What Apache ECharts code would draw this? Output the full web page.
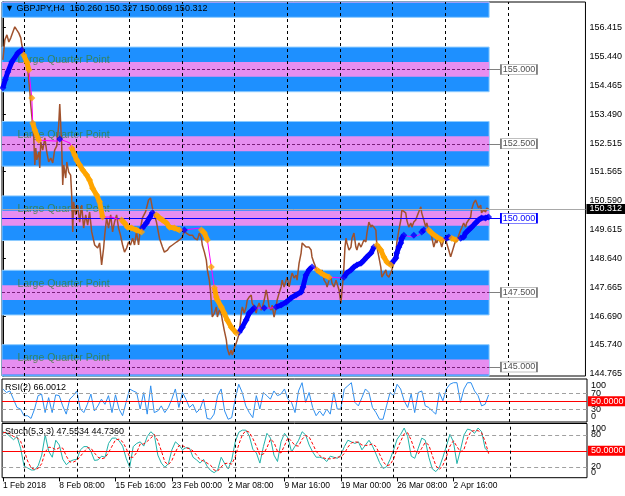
<!DOCTYPE html>
<html>
<head>
<meta charset="utf-8">
<script src="https://cdn.jsdelivr.net/npm/echarts@6/dist/echarts.min.js"></script>
<style>
html, body { margin: 0; padding: 0; background: #fff; }
#chart { width: 625px; height: 496px; }
</style>
</head>
<body>
<div id="chart"></div>
<script>
// GBPJPY H4 with quarter-point bands, RSI(2) and Stoch(5,3,3)
const FONT = '"Liberation Sans", "DejaVu Sans", Arial, sans-serif';

const yMin = 144.698, yMax = 157.265;
const xMin = -0.5, xMax = 331.9;
const lastBar = 277;
const boxBar = 294;       // where the level price boxes sit
const bid = 150.312;

const priceTicks = [156.415, 155.440, 154.465, 153.490, 152.515, 151.565, 150.590,
  149.615, 148.640, 147.665, 146.690, 145.740, 144.765];
const timeTickBars = [0, 32, 64, 96, 128, 160, 192, 224, 256];
const timeTickLabels = ['1 Feb 2018', '8 Feb 08:00', '15 Feb 16:00', '23 Feb 00:00',
  '2 Mar 08:00', '9 Mar 16:00', '19 Mar 00:00', '26 Mar 08:00', '2 Apr 16:00'];
const weekSeps = [12, 42, 72, 102, 132, 162, 192, 222, 252, 288];
const levels = [145, 147.5, 150, 152.5, 155, 157.5];
const levelText = [145, 147.5, 150, 152.5, 155];

// close line: [bar, price]
const price = [
  [0,155.32],[1.1,155.99],[2.3,156.16],[3.4,155.92],[4.5,156.06],[5.7,156.26],[6.8,156.43],[8,156.32],
  [9.1,156.22],[10.2,156.06],[10.8,155.82],[11.9,155.58],[13.1,155.38],[14.2,154.98],[15.3,154.31],
  [15.9,153.80],[17,153.13],[17.6,152.70],[18.2,151.79],[18.75,152.36],[19.3,151.96],[20.5,152.23],
  [21,151.69],[21.6,152.56],[22.7,152.29],[23.9,152.70],[25,152.23],[26.1,151.89],[27.3,152.02],
  [28.4,151.86],[29.5,152.29],[30.7,152.43],[31.8,153.13],[32.4,153.84],[33.5,152.46],[34.1,151.12],
  [34.7,151.79],[35.8,151.35],[36.4,151.89],[37.5,151.55],[38.6,151.45],[39.2,150.78],[39.8,149.54],
  [40.3,150.55],[41.5,150.11],[42.6,150.44],[43.75,149.87],[44.9,150.44],[46,149.67],[47.2,150.11],
  [48.3,149.77],[49.4,150.21],[50.6,149.54],[52.3,149.10],[54,149.00],[55.1,149.17],[56.25,148.43],
  [57.4,149.00],[58,149.43],[59.1,150.01],[60.2,149.67],[61.4,150.11],[62.5,149.54],[63.6,149.87],
  [64.8,150.11],[65.9,149.67],[67,149.43],[68.2,149.10],[69.3,148.86],[70.5,149.00],[71.6,149.20],
  [72.7,149.10],[73.9,149.33],[75,149.10],[76.1,149.54],[77.3,149.10],[78.4,149.67],[79.5,150.01],
  [81.25,150.21],[83,150.61],[84.1,150.68],[85.2,150.34],[86.4,150.11],[87.5,149.87],[89.2,149.33],
  [90.9,149.03],[92,148.86],[93.75,148.93],[94.9,149.03],[96.6,149.10],[98.9,149.20],[100.6,149.27],
  [102.3,149.37],[103.4,149.60],[104.5,149.50],[106.25,149.43],[108,149.43],[109.1,149.33],
  [110.8,149.27],[111.9,149.50],[113.1,149.33],[113.6,149.10],[114.8,148.86],[115.9,148.59],
  [116.5,148.26],[117.6,147.92],[118.2,147.59],[118.75,147.15],[119.3,146.68],[120.5,146.81],
  [121.6,147.02],[122.2,146.68],[123.3,146.91],[124.4,146.81],[125,146.58],[126.1,146.24],
  [127.3,145.91],[127.8,145.64],[129,145.40],[130.1,145.57],[130.7,145.40],[131.8,145.64],
  [133,145.81],[133.5,145.91],[134.7,146.14],[135.8,146.81],[136.4,147.02],[137,146.91],
  [137.5,146.81],[138.6,147.02],[139.2,147.25],[140.3,147.35],[141.5,147.42],[142,147.15],
  [143.2,147.02],[144.3,146.81],[144.9,146.98],[146,147.15],[147.2,146.91],[147.7,146.98],
  [148.9,147.25],[150,147.59],[150.6,147.42],[151.7,147.02],[152.8,146.91],[153.4,147.08],
  [154.5,146.68],[155.7,147.02],[156.25,147.25],[157.4,147.49],[158.5,147.69],[159.1,147.92],
  [160.2,147.69],[161.4,147.92],[161.9,148.02],[163.1,147.69],[164.2,148.02],[164.8,148.16],
  [165.9,147.99],[167,148.09],[167.6,147.92],[168.75,148.49],[169.9,148.83],[170.5,149.17],
  [171.6,149.20],[172.7,149.03],[173.3,149.00],[174.4,149.03],[175.6,148.93],[176.1,148.70],
  [177.3,148.49],[178.4,148.33],[179,148.16],[180.1,148.26],[181.25,148.09],[181.8,148.26],
  [183,147.92],[184.1,147.82],[184.7,147.69],[185.8,147.92],[186.9,148.02],[187.5,147.82],
  [188.6,147.69],[189.8,147.92],[190.3,147.82],[191.5,147.59],[192.6,147.15],[193.75,147.92],
  [194.3,148.36],[194.9,149.03],[195.5,149.33],[196,149.17],[197.2,148.93],[198.3,149.03],
  [198.9,149.33],[200,149.50],[201.1,149.03],[201.7,148.93],[202.8,149.17],[204,149.03],
  [204.5,149.10],[205.7,149.27],[206.8,149.20],[207.4,149.50],[208.5,149.87],[209.7,149.70],
  [210.2,149.77],[211.4,149.70],[212.5,149.60],[213.1,149.03],[214.2,148.70],[215.3,148.36],
  [215.9,148.02],[217,147.99],[218.2,148.26],[218.75,148.09],[219.9,148.02],[221,147.99],
  [221.6,148.26],[222.7,148.49],[223.9,148.70],[224.4,149.17],[225.6,149.60],[226.7,149.94],
  [227.3,150.28],[228.4,150.34],[229.5,150.18],[230.1,149.94],[231.25,149.70],[232.4,149.84],
  [233,149.70],[234.1,149.87],[235.2,149.94],[235.8,150.04],[236.9,150.21],[238.1,150.38],
  [238.6,150.18],[239.8,149.94],[240.9,149.70],[241.5,149.84],[242.6,149.60],[243.75,149.54],
  [244.3,149.37],[245.5,149.03],[246.6,149.27],[247.2,149.17],[248.3,149.33],[249.4,149.17],
  [250,149.03],[251.1,149.27],[252.3,149.33],[252.8,149.17],[254,148.93],[255.1,148.70],
  [255.7,148.76],[256.8,149.03],[258,149.27],[258.5,149.20],[259.7,149.43],[260.8,149.60],
  [261.4,149.67],[262.5,149.84],[263.6,149.70],[264.2,149.84],[265.3,149.94],[266.5,150.04],
  [267,150.28],[268.2,150.51],[269.3,150.61],[269.9,150.55],[271,150.34],[272.2,150.44],
  [272.7,150.18],[273.9,150.28],[275,150.21],[275.6,150.34],[276.7,150.312]
];

// trend average: [bar, price, state]  u = rising (blue), d = falling (orange), n = flat (no marker)
const ma = [
  [0,154.38,'u'],[1.4,154.66,'u'],[2.8,154.91,'u'],[5.1,155.25,'u'],[8.5,155.55,'u'],[10.8,155.65,'u'],
  [11.9,155.48,'d'],[13.6,155.25,'d'],[14.8,154.98,'d'],[16.5,154.04,'d'],[17,153.20,'d'],
  [18.2,152.96,'d'],[20.5,152.62,'d'],[31.25,152.59,'n'],[32.4,152.66,'u'],[38.1,152.53,'n'],
  [39.2,152.36,'d'],[40.9,152.12,'d'],[42,151.96,'d'],[43.75,151.79,'d'],[45.5,151.62,'d'],
  [47.7,151.45,'d'],[49.4,151.28,'d'],[51.1,151.01,'d'],[53.4,150.78,'d'],[55.1,150.55,'d'],
  [56.8,150.04,'d'],[61.9,150.04,'n'],[65.3,149.97,'n'],[67.6,149.94,'d'],[69.3,149.84,'d'],
  [71,149.70,'d'],[73.3,149.67,'d'],[76.1,149.60,'d'],[79,149.54,'d'],[79.5,149.67,'u'],
  [81.8,149.84,'u'],[83.5,150.01,'u'],[85.2,150.18,'u'],[87.5,150.11,'d'],[89.2,150.01,'d'],
  [90.9,149.94,'d'],[93.2,149.84,'d'],[94.9,149.70,'d'],[97.7,149.67,'d'],[100.6,149.60,'d'],
  [103.4,149.60,'u'],[111.9,149.67,'n'],[113.1,149.60,'d'],[114.8,149.50,'d'],[116.5,149.27,'d'],
  [118.75,148.36,'d'],[120.5,147.66,'d'],[121.6,147.35,'d'],[122.2,147.25,'d'],[124.4,147.02,'d'],
  [126.1,146.81,'d'],[127.8,146.58,'d'],[130.1,146.34,'d'],[133,146.14,'d'],[134.7,146.18,'u'],
  [136.4,146.34,'u'],[138.6,146.58,'u'],[140.3,146.81,'u'],[143.2,146.98,'u'],[147.2,146.98,'n'],
  [148.9,146.98,'u'],[152.8,146.98,'n'],[155.7,147.02,'u'],[158.5,147.08,'u'],[161.4,147.18,'u'],
  [164.2,147.32,'u'],[167,147.42,'u'],[169.9,147.52,'u'],[171,147.69,'u'],[172.7,148.09,'u'],
  [174.4,148.26,'u'],[176.1,148.36,'u'],[179,148.26,'d'],[181.25,148.16,'d'],[183,148.09,'d'],
  [185.8,148.02,'d'],[193.2,147.99,'n'],[194.3,148.02,'u'],[196,148.16,'u'],[198.3,148.26,'u'],
  [200,148.36,'u'],[201.7,148.43,'u'],[204,148.49,'u'],[205.7,148.59,'u'],[207.4,148.70,'u'],
  [209.7,148.83,'u'],[211.4,149.03,'u'],[213.1,149.10,'d'],[215.3,148.93,'d'],[217,148.70,'d'],
  [218.75,148.53,'d'],[221,148.43,'d'],[221.6,148.49,'u'],[223.9,148.66,'u'],[224.4,148.83,'u'],
  [225.6,149.03,'u'],[226.7,149.17,'u'],[227.3,149.33,'u'],[228.4,149.43,'u'],[233,149.37,'n'],
  [234.1,149.43,'u'],[236.9,149.43,'n'],[238.6,149.54,'u'],[239.8,149.60,'u'],[242.6,149.60,'d'],
  [244.3,149.50,'d'],[247.2,149.37,'d'],[250,149.27,'d'],[252.8,149.33,'u'],[254,149.37,'u'],
  [255.7,149.33,'d'],[258,149.27,'d'],[260.8,149.33,'u'],[262.5,149.37,'u'],[263.6,149.50,'u'],
  [265.3,149.60,'u'],[267,149.70,'u'],[269.3,149.84,'u'],[271,149.94,'u'],[272.7,150.01,'u'],
  [275,150.01,'u'],[276.7,150.04,'u']
];

// oscillators, one value every 2 bars
const rsi = [
  81,72,76,55,34,30,13,13,6,30, 64,68,21,59,21,66,64,38,17,55,
  64,76,30,21,42,68,25,38,55,42, 64,21,66,30,13,47,81,76,72,30,
  72,17,89,21,25,38,21,34,55,81, 34,72,55,34,42,21,30,55,6,4,
  17,64,81,25,4,8,55,93,72,38, 21,8,64,30,72,64,55,76,64,68,
  81,55,47,21,76,97,47,72,34,13, 25,13,30,17,72,30,30,81,89,97,
  47,38,59,81,72,34,21,4,4,38, 72,64,93,81,51,34,68,21,72,76,
  38,34,25,17,72,51,81,93,97,97, 47,81,97,97,76,64,38,42,66.0012
];
const stochK = [
  86,83,77,71,77,55,21,18,14,14, 22,42,80,49,38,70,61,34,24,30,
  33,34,52,58,58,49,32,33,40,38, 64,74,74,69,59,36,19,58,64,67,
  59,77,86,80,42,27,19,26,52,67, 61,52,56,55,38,33,27,34,21,13,
  9,14,38,26,16,33,67,85,89,89, 78,53,46,27,58,83,74,42,30,67,
  83,74,48,59,70,86,80,61,48,38, 38,36,30,40,38,36,42,58,70,67,
  64,67,52,61,70,59,44,28,17,20, 34,52,72,81,93,77,40,36,55,74,
  70,38,16,11,19,38,59,81,67,26, 52,80,91,89,83,93,86,55,47.5534
];
const stochD = [
  84,85,82,77,75,68,51,31,18,15, 17,26,48,57,56,52,56,55,40,29,
  29,32,40,48,56,55,46,38,35,37, 47,59,71,72,67,55,38,38,47,63,
  63,68,74,81,69,50,29,24,32,48, 60,60,56,54,50,42,33,31,27,23,
  14,12,20,26,27,25,39,62,80,88, 85,73,59,42,44,56,72,66,49,46,
  60,75,68,60,59,72,79,76,63,49, 41,37,35,35,36,38,39,45,57,65,
  67,66,61,60,61,63,58,44,30,22, 24,35,53,68,82,84,70,51,44,55,
  66,61,41,22,15,23,39,59,69,58, 48,53,74,87,88,88,84,68,44.736
];
const rsiLevels = [70, 30];
const stochLevels = [80, 20];

const chart = echarts.init(document.getElementById('chart'));

const txt = { fontFamily: FONT, fontSize: 9, color: '#000', fontWeight: 'normal' };
const clampLo = v => Math.max(v, yMin);
const clampHi = v => Math.min(v, yMax);

// colored runs of the trend average, broken at gaps and steep jumps
function run(state) {
  const out = [];
  for (let i = 0; i < ma.length; i++) {
    const p = ma[i];
    if (p[2] !== state) continue;
    const prev = ma[i - 1];
    if (out.length && !(prev && prev[2] === state && Math.abs(prev[1] - p[1]) < 0.6)) {
      out.push([p[0] - 0.01, '-']);
    }
    out.push([p[0], p[1]]);
  }
  return out;
}

function sepLines(grid) {
  return {
    type: 'line', xAxisIndex: grid, yAxisIndex: grid, data: [], z: 3, clip: false, silent: true,
    markLine: {
      silent: true, symbol: ['none', 'none'], label: { show: false },
      lineStyle: { color: '#000', type: [3, 3], width: 1 },
      data: weekSeps.map(v => ({ xAxis: v }))
    }
  };
}

function redLevel(grid, levelsGray) {
  return {
    type: 'line', xAxisIndex: grid, yAxisIndex: grid, data: [], z: 2, clip: false, silent: true,
    markLine: {
      silent: true, symbol: ['none', 'none'],
      data: [
        { yAxis: 50, lineStyle: { color: '#FF0000', type: 'solid', width: 1 },
          label: { show: true, position: 'end', distance: 1, formatter: '50.0000',
            backgroundColor: '#FF0000', color: '#fff', padding: [1, 3, 0, 3],
            fontFamily: FONT, fontSize: 9 } },
        ...levelsGray.map(v => ({ yAxis: v, label: { show: false },
          lineStyle: { color: '#A0A0A0', type: [4, 3], width: 1 } }))
      ]
    }
  };
}

// label-only axis for an oscillator panel
function oscAxis(grid, min, max, values, vAlign) {
  return {
    type: 'value', gridIndex: grid, position: 'right', min: min, max: max,
    axisLine: { show: false }, splitLine: { show: false }, axisTick: { show: false },
    axisLabel: { show: true, customValues: values, margin: 4, verticalAlign: vAlign,
      fontFamily: FONT, fontSize: 9, color: '#000', formatter: v => String(v) }
  };
}

const gridBase = { show: true, borderColor: '#000', borderWidth: 1, backgroundColor: 'transparent', left: 2, width: 585 };

const option = {
  animation: false,
  backgroundColor: '#fff',
  title: [
    { text: '\u25BC GBPJPY,H4  150.260 150.327 150.069 150.312', left: 5, top: 4, padding: 0, textStyle: txt },
    { text: 'RSI(2) 66.0012', left: 5, top: 383, padding: 0, textStyle: txt },
    { text: 'Stoch(5,3,3) 47.5534 44.7360', left: 5, top: 427, padding: 0, textStyle: txt }
  ],
  grid: [
    Object.assign({ top: 2, height: 374 }, gridBase),
    Object.assign({ top: 379, height: 43 }, gridBase),
    Object.assign({ top: 423.5, height: 54.2 }, gridBase)
  ],
  xAxis: [0, 1, 2].map(g => ({
    type: 'value', gridIndex: g, min: xMin, max: xMax,
    axisLine: { show: false }, splitLine: { show: false },
    axisTick: g === 2 ? { show: true, customValues: timeTickBars, length: 4, lineStyle: { color: '#000' } } : { show: false },
    axisLabel: g === 2 ? {
      show: true, customValues: timeTickBars, align: 'left', margin: 3,
      fontFamily: FONT, fontSize: 8.5, color: '#000',
      formatter: v => timeTickLabels[timeTickBars.indexOf(v)] || ''
    } : { show: false }
  })),
  yAxis: [
    {
      type: 'value', gridIndex: 0, position: 'right', min: yMin, max: yMax,
      axisLine: { show: true, lineStyle: { color: '#000' } },
      splitLine: { show: false },
      axisTick: { show: true, customValues: priceTicks, length: 3, lineStyle: { color: '#000' } },
      axisLabel: { show: true, customValues: priceTicks, margin: 4, fontFamily: FONT, fontSize: 9,
        color: '#000', formatter: v => v.toFixed(3) }
    },
    oscAxis(1, -3, 106.4, rsiLevels, 'middle'),
    oscAxis(2, -0.5, 101.5, stochLevels, 'middle'),
    oscAxis(1, -3, 106.4, [100], 'top'),
    oscAxis(1, -3, 106.4, [0], 'bottom'),
    oscAxis(2, -0.5, 101.5, [100], 'top'),
    oscAxis(2, -0.5, 101.5, [0], 'bottom')
  ],
  series: [
    // blue bands
    {
      type: 'line', xAxisIndex: 0, yAxisIndex: 0, data: [], z: 1, silent: true,
      markArea: {
        silent: true,
        itemStyle: { color: '#1E90FF', borderColor: '#8CCBFF', borderWidth: 1 },
        data: levels.map(L => [{ xAxis: xMin, yAxis: clampLo(L - 0.75) }, { xAxis: lastBar, yAxis: clampHi(L + 0.75) }])
      }
    },
    // violet cores
    {
      type: 'line', xAxisIndex: 0, yAxisIndex: 0, data: [], z: 2, silent: true,
      markArea: {
        silent: true,
        itemStyle: { color: '#E68EF0' },
        data: levels.map(L => [{ xAxis: xMin, yAxis: clampLo(L - 0.25) }, { xAxis: lastBar, yAxis: clampHi(L + 0.25) }])
      }
    },
    // level lines, connectors, price boxes and bid line
    {
      type: 'line', xAxisIndex: 0, yAxisIndex: 0, data: [], z: 3, clip: false, silent: true,
      markLine: {
        silent: true, symbol: ['none', 'none'], label: { show: false },
        data: [
          ...levelText.filter(L => L !== 150).map(L => [
            { xAxis: xMin, yAxis: L, lineStyle: { color: '#7A1F7A', type: [3, 2], width: 1 } },
            { xAxis: lastBar, yAxis: L }]),
          ...levelText.filter(L => L !== 150).map(L => [
            { xAxis: lastBar, yAxis: L, lineStyle: { color: '#808080', type: 'solid', width: 1 } },
            { xAxis: boxBar - 10, yAxis: L }]),
          [{ xAxis: xMin, yAxis: 150, lineStyle: { color: '#0000FF', type: 'solid', width: 1 } },
            { xAxis: boxBar - 10, yAxis: 150 }],
          { yAxis: bid, lineStyle: { color: '#A8A8A8', type: 'solid', width: 1 },
            label: { show: true, position: 'end', distance: 1, formatter: bid.toFixed(3),
              backgroundColor: '#000', color: '#fff', padding: [1, 3, 0, 3], fontFamily: FONT, fontSize: 9 } }
        ]
      },
      markPoint: {
        silent: true, symbol: 'rect', symbolSize: [36, 10],
        data: levelText.map(L => ({
          coord: [boxBar, L],
          itemStyle: { color: '#fff', borderColor: L === 150 ? '#0000FF' : '#808080', borderWidth: 1 },
          label: { show: true, position: 'inside', formatter: L.toFixed(3),
            color: L === 150 ? '#0000FF' : '#505050', fontFamily: FONT, fontSize: 9 }
        }))
      }
    },
    // band captions
    {
      type: 'scatter', xAxisIndex: 0, yAxisIndex: 0, z: 3, silent: true,
      symbolSize: 1, itemStyle: { color: 'rgba(0,0,0,0)' },
      label: { show: true, position: 'right', distance: 0, formatter: 'Large Quarter Point',
        color: '#3A7F3A', fontFamily: FONT, fontSize: 10.5 },
      data: levelText.map(L => [8, L + 0.30])
    },
    sepLines(0),
    // close line
    {
      type: 'line', xAxisIndex: 0, yAxisIndex: 0, z: 4, showSymbol: false, silent: true,
      lineStyle: { color: '#A0522D', width: 1.5 },
      data: price
    },
    // trend average, thin connector
    {
      type: 'line', xAxisIndex: 0, yAxisIndex: 0, z: 5, showSymbol: false, silent: true,
      lineStyle: { color: '#FF00FF', width: 1 },
      data: ma.map(p => [p[0], p[1]])
    },
    {
      type: 'line', xAxisIndex: 0, yAxisIndex: 0, z: 6, showSymbol: false, silent: true,
      connectNulls: false, lineStyle: { color: '#0000FF', width: 5 }, data: run('u')
    },
    {
      type: 'line', xAxisIndex: 0, yAxisIndex: 0, z: 6, showSymbol: false, silent: true,
      connectNulls: false, lineStyle: { color: '#FFA500', width: 5 }, data: run('d')
    },
    {
      type: 'scatter', xAxisIndex: 0, yAxisIndex: 0, z: 7, silent: true,
      symbol: 'diamond', symbolSize: 7, itemStyle: { color: '#0000FF' },
      data: ma.filter(p => p[2] === 'u').map(p => [p[0], p[1]])
    },
    {
      type: 'scatter', xAxisIndex: 0, yAxisIndex: 0, z: 7, silent: true,
      symbol: 'diamond', symbolSize: 7, itemStyle: { color: '#FFA500' },
      data: ma.filter(p => p[2] === 'd').map(p => [p[0], p[1]])
    },
    // RSI panel
    redLevel(1, rsiLevels),
    sepLines(1),
    {
      type: 'line', xAxisIndex: 1, yAxisIndex: 1, z: 4, showSymbol: false, silent: true,
      lineStyle: { color: '#2F8FEF', width: 1 },
      data: rsi.map((v, i) => [2 * i, v])
    },
    // Stochastic panel
    redLevel(2, stochLevels),
    sepLines(2),
    {
      type: 'line', xAxisIndex: 2, yAxisIndex: 2, z: 4, showSymbol: false, silent: true,
      lineStyle: { color: '#20B2AA', width: 1 },
      data: stochK.map((v, i) => [2 * i, v])
    },
    {
      type: 'line', xAxisIndex: 2, yAxisIndex: 2, z: 5, showSymbol: false, silent: true,
      lineStyle: { color: '#FF0000', width: 1, type: [3, 2] },
      data: stochD.map((v, i) => [2 * i, v])
    }
  ]
};

chart.setOption(option);
</script>
</body>
</html>
